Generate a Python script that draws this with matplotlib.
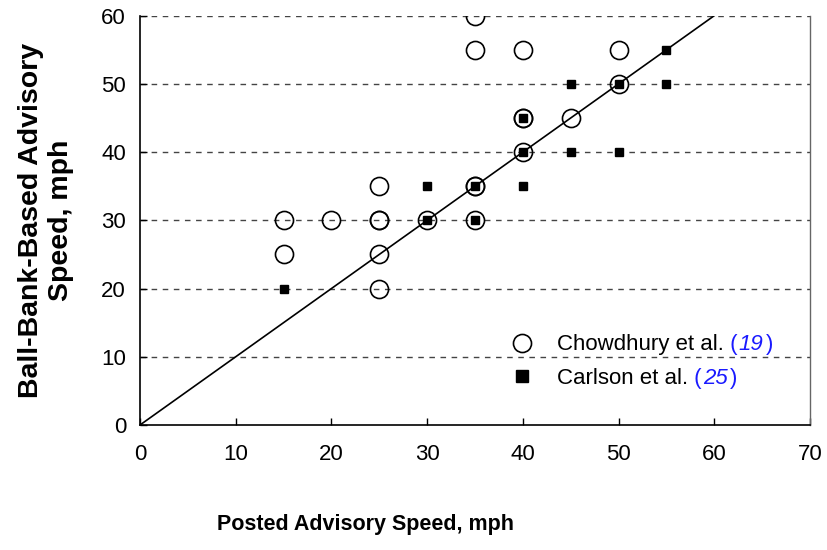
import matplotlib
matplotlib.use("Agg")
import matplotlib.pyplot as plt
from matplotlib.lines import Line2D

plt.rcParams['font.family'] = ['Liberation Sans', 'DejaVu Sans']

# Chowdhury et al. (19) - open circles (posted, ball-bank)
chow_posted = [15, 15, 20, 25, 25, 25, 25, 25, 30, 35, 35, 35, 35, 35, 40, 40, 40, 40, 45, 50, 50]
chow_bb     = [30, 25, 30, 35, 30, 30, 25, 20, 30, 60, 55, 35, 35, 30, 55, 45, 45, 40, 45, 55, 50]

# Carlson et al. (25) - filled squares
carl_posted = [15, 30, 30, 35, 35, 40, 40, 40, 45, 45, 50, 50, 55, 55]
carl_bb     = [20, 35, 30, 35, 30, 45, 40, 35, 50, 40, 50, 40, 55, 50]

xticks = [0, 10, 20, 30, 40, 50, 60, 70]
yticks = [0, 10, 20, 30, 40, 50, 60]
grid_levels = [10, 20, 30, 40, 50, 60]

fig = plt.figure(figsize=(8.27, 5.5), dpi=100)
ax = fig.add_axes([0.1693, 0.2273, 0.8101, 0.7442])

for g in grid_levels:
    ax.axhline(g, color='#444444', lw=1.0, dashes=(4, 4), zorder=1)

ax.plot([0, 70], [0, 70], color='black', lw=1.2, zorder=2)

ax.plot(chow_posted, chow_bb, linestyle='none', marker='o', markersize=13,
        markerfacecolor='none', markeredgecolor='black', markeredgewidth=1.2, zorder=3)
ax.plot(carl_posted, carl_bb, linestyle='none', marker='s', markersize=6,
        markerfacecolor='black', markeredgecolor='black', zorder=4)

ax.set_xlim(0, 70)
ax.set_ylim(0, 60)
ax.set_xticks(xticks)
ax.set_yticks(yticks)
ax.tick_params(direction='in', length=5, width=1)
ax.tick_params(axis='x', pad=14, labelsize=16)
ax.tick_params(axis='y', pad=10, labelsize=16)

ax.spines['top'].set_visible(False)
ax.spines['right'].set_color('#666666')
ax.spines['right'].set_linewidth(1.0)
ax.spines['left'].set_linewidth(1.2)
ax.spines['bottom'].set_linewidth(1.2)

ax.set_xlabel('Posted Advisory Speed, mph', fontsize=15.5, fontweight='bold')
ax.xaxis.set_label_coords(0.337, -0.218)
ax.set_ylabel('Ball-Bank-Based Advisory\nSpeed, mph', fontsize=20.5, fontweight='bold',
              linespacing=1.2)
ax.yaxis.set_label_coords(-0.098, 0.5)

handles = [
    Line2D([], [], linestyle='none', marker='o', markersize=13, markerfacecolor='none',
           markeredgecolor='black', markeredgewidth=1.2),
    Line2D([], [], linestyle='none', marker='s', markersize=9, markerfacecolor='black',
           markeredgecolor='black'),
]
leg = ax.legend(handles, ['Chowdhury et al.', 'Carlson et al.'], loc='center left',
                bbox_to_anchor=(0.546, 0.155), frameon=False, fontsize=16,
                handlelength=1.5, handletextpad=0.8, labelspacing=0.55,
                borderaxespad=0, borderpad=0)

fig.canvas.draw()
renderer = fig.canvas.get_renderer()
blue = '#1a1aff'
for txt, ref in zip(leg.get_texts(), ['19', '25']):
    bb = txt.get_window_extent(renderer)
    _, ybase = txt.get_transform().transform(txt.get_position())
    t1 = fig.text(0, 0, ' (', color=blue, fontsize=16, va='baseline', ha='left',
                  transform=None)
    t1.set_position((bb.x1, ybase))
    b1 = t1.get_window_extent(renderer)
    t2 = fig.text(0, 0, ref, color=blue, fontsize=16, style='italic', va='baseline',
                  ha='left', transform=None)
    t2.set_position((b1.x1 + 1, ybase))
    b2 = t2.get_window_extent(renderer)
    t3 = fig.text(0, 0, ')', color=blue, fontsize=16, va='baseline', ha='left',
                  transform=None)
    t3.set_position((b2.x1 + 3, ybase))

fig.savefig('out.png', dpi=100)
